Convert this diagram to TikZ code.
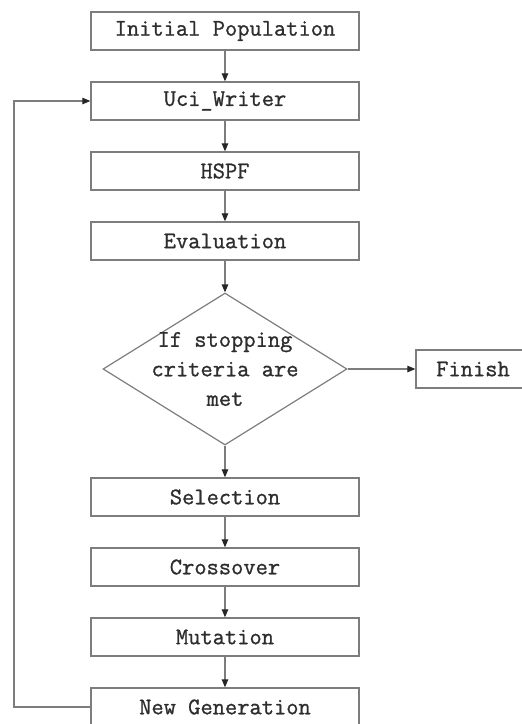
\documentclass[tikz,border=0pt]{standalone}
\usepackage{fontspec}
\newfontfamily\simfont[FakeBold=1.0]{Latin Modern Mono}
\usetikzlibrary{shapes.geometric,arrows.meta}
\definecolor{linegray}{RGB}{125,125,125}
\definecolor{textgray}{RGB}{45,45,45}
\tikzset{
  stepbox/.style={draw=linegray, line width=1.3pt, rectangle, minimum width=268pt,
    minimum height=38pt, inner sep=0pt, text=textgray,
    font=\simfont\fontsize{23.8}{30}\selectfont},
  decbox/.style={draw=linegray, line width=1.2pt, diamond, minimum width=244pt,
    minimum height=152pt, inner sep=0pt, aspect=1.6},
  dectext/.style={text=textgray, align=center, inner sep=0pt,
    font=\simfont\fontsize{23.8}{29.5}\selectfont},
  flow/.style={draw=linegray, line width=1.2pt,
    -{Triangle[length=8pt,width=6.5pt,fill=black!85,color=black!85]}},
}
\begin{document}
\begin{tikzpicture}[x=1pt,y=-1pt]
\useasboundingbox (0,0) rectangle (522,724);
\clip (0,0) rectangle (522,724);
\node[stepbox] (init) at (225,31) {Initial Population};
\node[stepbox] (uci) at (225,101) {Uci\_Writer};
\node[stepbox] (hspf) at (225,171) {HSPF};
\node[stepbox] (eval) at (225,241) {Evaluation};
\node[decbox] (dec) at (225,369) {};
\node[dectext] (dect) at (225,369) {If stopping\\criteria are\\met};
\node[stepbox, minimum width=114pt] (fin) at (473,369) {Finish};
\node[stepbox] (sel) at (225,497) {Selection};
\node[stepbox] (cross) at (225,567) {Crossover};
\node[stepbox] (mut) at (225,637) {Mutation};
\node[stepbox] (newg) at (225,707) {New Generation};
\coordinate (back) at (14,707);
\coordinate (backtop) at (14,101);
\draw[flow] (init) -- (uci);
\draw[flow] (uci) -- (hspf);
\draw[flow] (hspf) -- (eval);
\draw[flow] (eval) -- (dec.north);
\draw[flow] (dec.east) -- (fin.west);
\draw[flow] (dec.south) -- (sel);
\draw[flow] (sel) -- (cross);
\draw[flow] (cross) -- (mut);
\draw[flow] (mut) -- (newg);
\draw[flow] (newg.west) -- (back) -- (backtop) -- (uci.west);
\end{tikzpicture}
\end{document}
